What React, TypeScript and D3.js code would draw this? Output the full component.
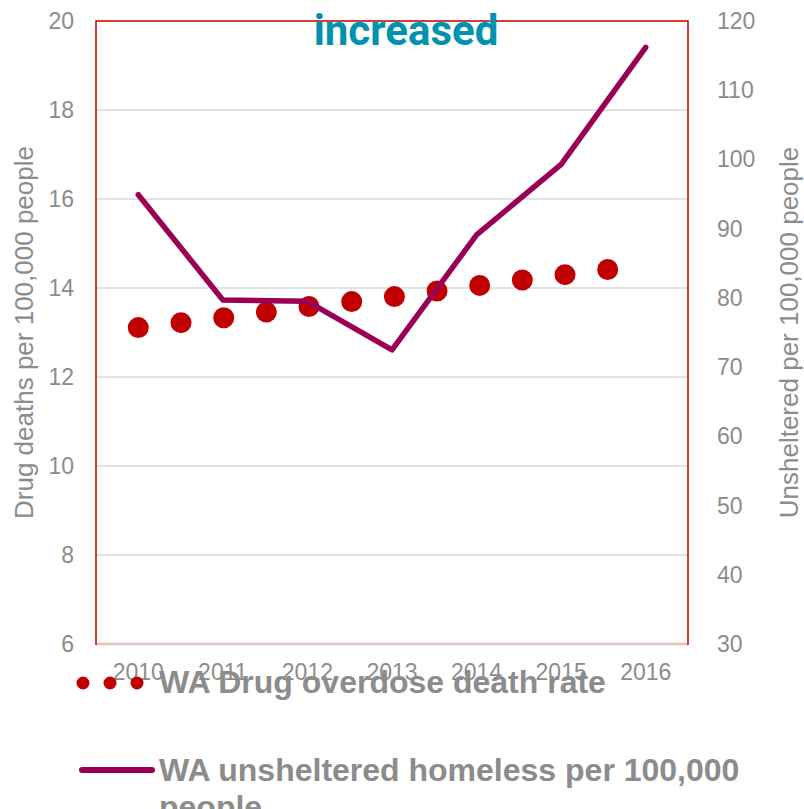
import * as d3 from 'd3';

const years = [2010, 2011, 2012, 2013, 2014, 2015, 2016];
// WA drug overdose deaths per 100,000 (left axis)
const overdoseRate = [13.11, 13.33, 13.58, 13.8, 14.05, 14.29, 14.52];
// WA unsheltered homeless per 100,000 (right axis)
const unshelteredRate = [94.9, 79.7, 79.5, 72.5, 89.1, 99.3, 116.2];
const leftTicks = [6, 8, 10, 12, 14, 16, 18, 20];
const rightTicks = [30, 40, 50, 60, 70, 80, 90, 100, 110, 120];

const W = 804;
const H = 809;
const margin = { top: 21, right: 116, bottom: 165, left: 96 };
const font = "'Liberation Sans', Arial, sans-serif";
const grey = '#8c8c8c';
const red = '#c00000';
const plum = '#990055';

export default function App() {
  const x0 = margin.left;
  const x1 = W - margin.right;
  const y0 = margin.top;
  const y1 = H - margin.bottom;

  const x = d3.scaleBand<number>().domain(years).range([x0, x1]);
  const cx = (d: number) => (x(d) ?? 0) + x.bandwidth() / 2;
  const yL = d3.scaleLinear().domain([6, 20]).range([y1, y0]);
  const yR = d3.scaleLinear().domain([30, 120]).range([y1, y0]);

  const overdoseLine = d3
    .line<number>()
    .x((_, i) => cx(years[i]))
    .y((d) => yL(d));
  const homelessLine = d3
    .line<number>()
    .x((_, i) => cx(years[i]))
    .y((d) => yR(d));

  return (
    <svg
      width={W}
      height={H}
      style={{ position: 'absolute', left: 0, top: 0, background: '#fff' }}
      fontFamily={font}
    >
      {/* grid lines */}
      {leftTicks
        .filter((t) => t !== 6 && t !== 20)
        .map((t) => (
          <line key={t} x1={x0} x2={x1} y1={yL(t)} y2={yL(t)} stroke="#d9d9d9" strokeWidth={1.5} />
        ))}

      {/* plot frame */}
      <line x1={x0} x2={x1} y1={y1} y2={y1} stroke="#ecbcbc" strokeWidth={2.5} />
      <path d={`M${x0},${y1 + 1} V${y0} H${x1} V${y1 + 1}`} fill="none" stroke={red} strokeWidth={1.5} />

      {/* left ticks */}
      {leftTicks.map((t) => (
        <text key={t} x={74} y={yL(t)} dy="0.35em" textAnchor="end" fontSize={23} fill={grey}>
          {t}
        </text>
      ))}
      {/* right ticks */}
      {rightTicks.map((t) => (
        <text key={t} x={717} y={yR(t)} dy="0.35em" textAnchor="start" fontSize={23} fill={grey}>
          {t}
        </text>
      ))}
      {/* x ticks */}
      {years.map((yr) => (
        <text key={yr} x={cx(yr)} y={680} textAnchor="middle" fontSize={23} fill={grey}>
          {yr}
        </text>
      ))}

      {/* axis titles */}
      <text
        transform={`translate(33,${(y0 + y1) / 2}) rotate(-90)`}
        textAnchor="middle"
        fontSize={26}
        fill={grey}
      >
        Drug deaths per 100,000 people
      </text>
      <text
        transform={`translate(798,${(y0 + y1) / 2}) rotate(-90)`}
        textAnchor="middle"
        fontSize={26}
        fill={grey}
      >
        Unsheltered per 100,000 people
      </text>

      {/* series */}
      <path
        d={overdoseLine(overdoseRate) ?? ''}
        fill="none"
        stroke={red}
        strokeWidth={21}
        strokeLinecap="round"
        strokeDasharray="0 43"
      />
      <path
        d={homelessLine(unshelteredRate) ?? ''}
        fill="none"
        stroke={plum}
        strokeWidth={5.5}
        strokeLinejoin="round"
        strokeLinecap="round"
      />

      {/* title fragment */}
      <text x={406} y={45} textAnchor="middle" fontFamily="Roboto, sans-serif" fontWeight={700} fontSize={42} fill="#0093b0">
        increased
      </text>

      {/* legend */}
      <line x1={83} x2={138} y1={683} y2={683} stroke={red} strokeWidth={13} strokeLinecap="round" strokeDasharray="0 27" />
      <text x={159} y={693} fontSize={32} fontWeight={700} fill={grey}>
        WA Drug overdose death rate
      </text>
      <line x1={82} x2={152} y1={770} y2={770} stroke={plum} strokeWidth={6} strokeLinecap="round" />
      <text x={159} y={781} fontSize={32} fontWeight={700} fill={grey}>
        <tspan x={159}>WA unsheltered homeless per 100,000</tspan>
        <tspan x={159} dy={37}>people</tspan>
      </text>
    </svg>
  );
}
